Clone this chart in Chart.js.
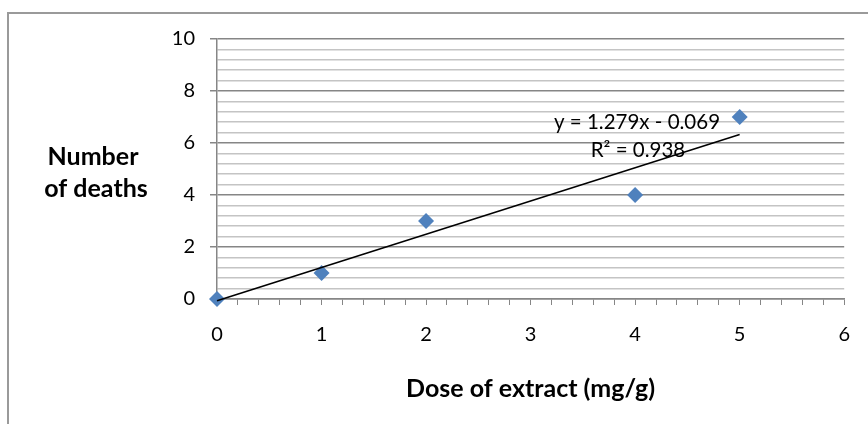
<!DOCTYPE html>
<html>
<head>
<meta charset="utf-8">
<script src="https://cdn.jsdelivr.net/npm/chart.js@4/dist/chart.umd.min.js"></script>
<style>
  body { margin: 0; background: #fff; }
  #wrap { position: relative; width: 868px; height: 424px; overflow: hidden; }
  #frame { position: absolute; left: 7px; top: 12px; width: 900px; height: 450px; border: 2px solid #9a9a9a; }
  canvas { position: absolute; left: 0; top: 0; }
</style>
</head>
<body>
<div id="wrap">
  <div id="frame"></div>
  <canvas id="chart" width="868" height="424"></canvas>
</div>
<script>
    // данные
    const doses = [0, 1, 2, 4, 5];
    const deaths = [0, 1, 3, 4, 7];
    const xTicks = [0, 1, 2, 3, 4, 5, 6];
    const yTicks = [0, 2, 4, 6, 8, 10];
    const yTitle = ['Number', 'of deaths'];
    const xTitle = 'Dose of extract (mg/g)';
    const trendText = ['y = 1.279x - 0.069', 'R\u00B2 = 0.938'];

    // линейная регрессия
    const n = doses.length;
    const mx = doses.reduce((a, b) => a + b, 0) / n;
    const my = deaths.reduce((a, b) => a + b, 0) / n;
    let sxy = 0, sxx = 0;
    doses.forEach((x, i) => { sxy += (x - mx) * (deaths[i] - my); sxx += (x - mx) * (x - mx); });
    const slope = sxy / sxx;
    const intercept = my - slope * mx;
    const xFirst = doses[0], xLast = doses[n - 1];
    const trend = [
        { x: xFirst, y: slope * xFirst + intercept },
        { x: xLast, y: slope * xLast + intercept }
    ];

    const FONT = 'Lato, "Open Sans", sans-serif';
    const isOn = (v, step) => Math.abs(v / step - Math.round(v / step)) < 1e-6;

    const textPlugin = {
        id: 'texts',
        afterDraw(chart) {
            const ctx = chart.ctx;
            ctx.save();
            ctx.fillStyle = '#000';
            ctx.textAlign = 'center';
            ctx.textBaseline = 'middle';
            ctx.font = 'bold 25px ' + FONT;
            ctx.fillText(yTitle[0], 93, 157);
            ctx.fillText(yTitle[1], 96, 189);
            ctx.font = '20.5px ' + FONT;
            ctx.fillText(trendText[0], 637, 122);
            ctx.fillText(trendText[1], 638, 150);
            ctx.restore();
        }
    };

    new Chart(document.getElementById('chart'), {
        type: 'scatter',
        data: {
            datasets: [{
                label: 'deaths',
                data: doses.map((x, i) => ({ x, y: deaths[i] })),
                pointStyle: 'rectRot',
                pointRadius: 8,
                pointHoverRadius: 8,
                backgroundColor: '#4f81bd',
                borderColor: '#4f81bd',
                borderWidth: 0,
                clip: false,
                order: 1
            }, {
                type: 'line',
                label: 'trend',
                data: trend,
                borderColor: '#000',
                borderWidth: 1.5,
                pointRadius: 0,
                fill: false,
                clip: false,
                order: 0
            }]
        },
        options: {
            responsive: false,
            animation: false,
            events: [],
            layout: { padding: { left: 0, top: 39, right: 19, bottom: 0 } },
            plugins: { legend: { display: false }, tooltip: { enabled: false } },
            scales: {
                x: {
                    type: 'linear',
                    min: 0,
                    max: 6,
                    afterFit: s => { s.height = 125; },
                    ticks: {
                        stepSize: 0.2,
                        autoSkip: false,
                        maxRotation: 0,
                        padding: 18,
                        color: '#000',
                        font: { family: FONT, size: 20 },
                        callback: v => (isOn(v, 1) && xTicks.includes(Math.round(v))) ? String(Math.round(v)) : ''
                    },
                    grid: { drawOnChartArea: false, drawTicks: true, tickLength: 6, tickColor: '#868686' },
                    border: { color: '#868686', width: 1.5 },
                    title: {
                        display: true,
                        text: xTitle,
                        color: '#000',
                        font: { family: FONT, size: 25, weight: 'bold' },
                        padding: { top: 0, bottom: 20 }
                    }
                },
                y: {
                    min: 0,
                    max: 10,
                    afterFit: s => { s.width = 217; },
                    ticks: {
                        stepSize: 0.4,
                        autoSkip: false,
                        padding: 15,
                        color: '#000',
                        font: { family: FONT, size: 20 },
                        callback: v => (isOn(v, 2) && yTicks.includes(Math.round(v))) ? String(Math.round(v)) : ''
                    },
                    grid: {
                        color: c => isOn(c.tick.value, 2) ? '#868686' : '#c4c4c4',
                        tickColor: c => isOn(c.tick.value, 2) ? '#868686' : 'rgba(0,0,0,0)',
                        lineWidth: 1.5,
                        tickLength: 7
                    },
                    border: { color: '#868686', width: 1.5 }
                }
            }
        },
        plugins: [textPlugin]
    });
</script>
</body>
</html>
